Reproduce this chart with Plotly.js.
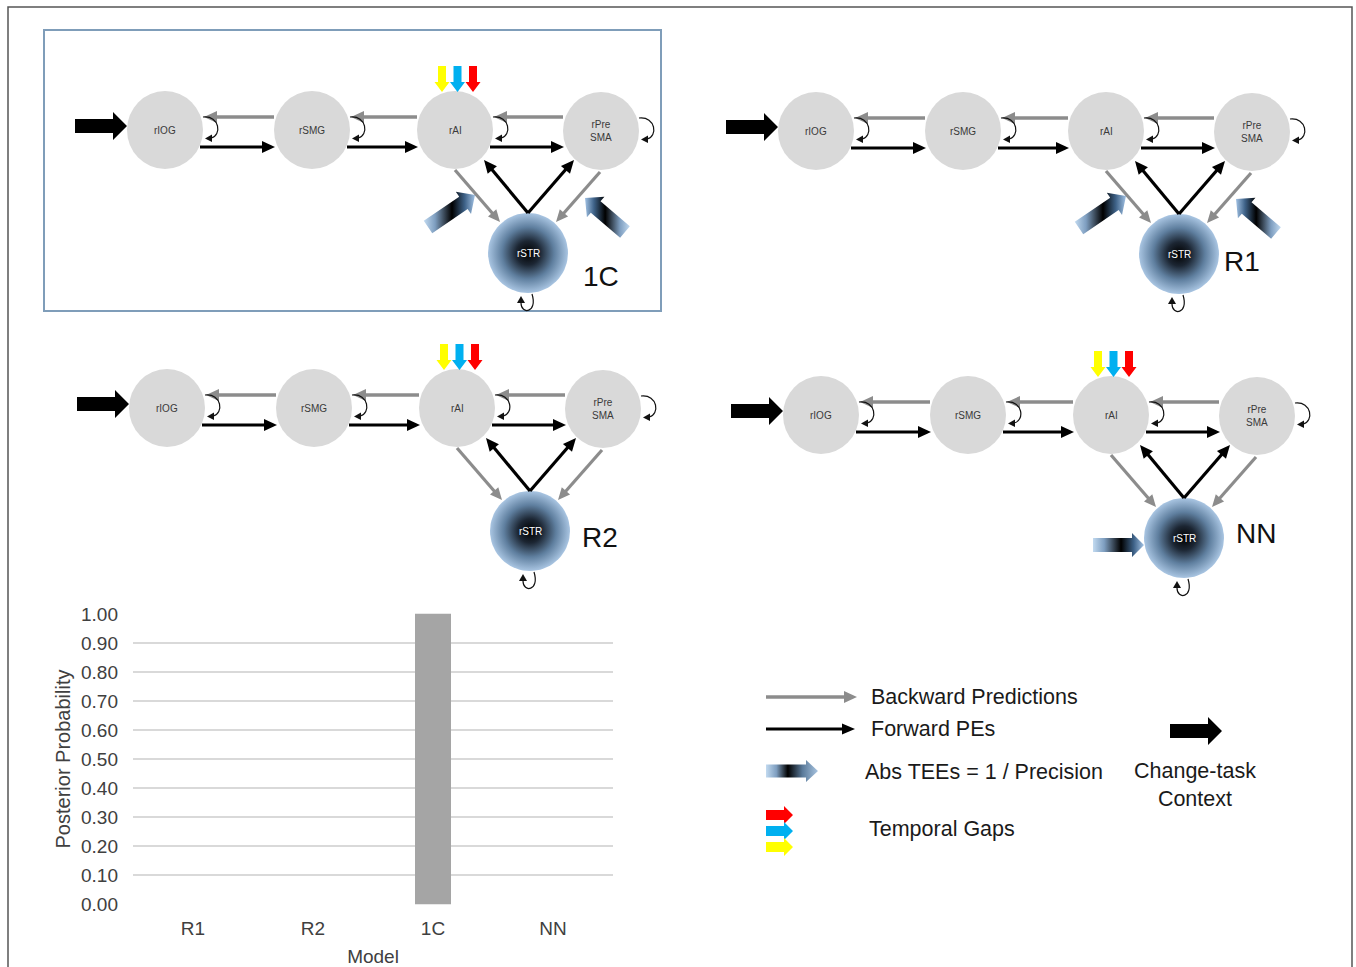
<!DOCTYPE html>
<html>
<head>
<meta charset="utf-8">
<script src="https://cdn.plot.ly/plotly-3.0.1.min.js"></script>
<style>html,body{margin:0;padding:0;background:#fff}#chart{width:1356px;height:967px}</style>
</head>
<body>
<div id="chart"></div>
<script>
// ---------- bar chart data ----------
const models = ['R1', 'R2', '1C', 'NN'];
const posterior = [0.00, 0.00, 1.00, 0.00];
const yTickVals = [0, 0.1, 0.2, 0.3, 0.4, 0.5, 0.6, 0.7, 0.8, 0.9, 1.0];
const yTitle = 'Posterior Probability';
const xTitle = 'Model';

// ---------- diagram content ----------
const nodeNames = ['rIOG', 'rSMG', 'rAI', 'rPre<br>SMA', 'rSTR'];
const nodeDX = [0, 147, 290, 436, 363];
const nodeDY = [0, 0, 0, 1, 123];
const panelNames = ['1C', 'R1', 'R2', 'NN'];
const panelOX = [165, 816, 167, 821];
const panelOY = [130, 131, 408, 415];
const panelTEE = ['diag', 'diag', 'none', 'horiz'];
const panelGaps = [true, false, true, true];
const panelLabelDX = [436, 426, 433, 435];
const panelLabelDY = [146, 130, 129, 118];
const gapColors = ['#ffff00', '#00b0f0', '#ff0000'];
const legendLabels = ['Backward Predictions', 'Forward PEs', 'Abs TEEs = 1 / Precision', 'Temporal Gaps', 'Change-task<br>Context'];

const GRAY_ARROW = '#8c8c8c';
const NODE_FILL = '#d9d9d9';
const FONT = 'Liberation Sans, Arial, sans-serif';
const NARROW = 'Liberation Sans Narrow, Arial Narrow, Liberation Sans, sans-serif';

const shapes = [];
const annotations = [];
const traces = [];

// bar trace
traces.push({
  type: 'bar', x: models, y: posterior, marker: {color: '#a5a5a5'},
  xaxis: 'x', yaxis: 'y', hoverinfo: 'skip', showlegend: false
});

function P(o) { return {xref: 'x2', yref: 'y2', ...o}; }

function arrow(x1, y1, x2, y2, color, w, hl, hw) {
  const dx = x2 - x1, dy = y2 - y1, L = Math.hypot(dx, dy);
  const ux = dx / L, uy = dy / L, px = -uy, py = ux;
  const bx = x2 - ux * hl, by = y2 - uy * hl;
  shapes.push(P({type: 'line', x0: x1, y0: y1, x1: bx + ux, y1: by + uy, line: {color: color, width: w}}));
  shapes.push(P({type: 'path', path: `M ${x2} ${y2} L ${bx + px * hw / 2} ${by + py * hw / 2} L ${bx - px * hw / 2} ${by - py * hw / 2} Z`,
    fillcolor: color, line: {width: 0}}));
}

function blockPts(x1, y1, x2, y2, sw, hw, hl) {
  const dx = x2 - x1, dy = y2 - y1, L = Math.hypot(dx, dy);
  const ux = dx / L, uy = dy / L, px = -uy, py = ux;
  const bx = x2 - ux * hl, by = y2 - uy * hl;
  return [
    [x1 + px * sw / 2, y1 + py * sw / 2],
    [bx + px * sw / 2, by + py * sw / 2],
    [bx + px * hw / 2, by + py * hw / 2],
    [x2, y2],
    [bx - px * hw / 2, by - py * hw / 2],
    [bx - px * sw / 2, by - py * sw / 2],
    [x1 - px * sw / 2, y1 - py * sw / 2]
  ];
}

function block(x1, y1, x2, y2, sw, hw, hl, color) {
  const pts = blockPts(x1, y1, x2, y2, sw, hw, hl);
  const path = 'M ' + pts.map(p => p[0] + ' ' + p[1]).join(' L ') + ' Z';
  shapes.push(P({type: 'path', path: path, fillcolor: color, line: {width: 0}}));
}

function gradBlock(x1, y1, x2, y2, sw, hw, hl, cs) {
  const pts = blockPts(x1, y1, x2, y2, sw, hw, hl);
  pts.push(pts[0]);
  traces.push({
    type: 'scatter', mode: 'lines', x: pts.map(p => p[0]), y: pts.map(p => p[1]),
    fill: 'toself', fillgradient: {type: 'horizontal', colorscale: cs},
    line: {width: 0, color: 'rgba(0,0,0,0)'}, xaxis: 'x2', yaxis: 'y2', hoverinfo: 'skip', showlegend: false
  });
}

function selfLoopRight(cx, cy) {
  shapes.push(P({type: 'path', path: `M ${cx + 38} ${cy - 13} C ${cx + 55} ${cy - 15}, ${cx + 57} ${cy + 6}, ${cx + 46} ${cy + 8}`,
    line: {color: '#111', width: 1.2}}));
  shapes.push(P({type: 'path', path: `M ${cx + 40} ${cy + 8.5} L ${cx + 47} ${cy + 4.5} L ${cx + 47} ${cy + 12} Z`, fillcolor: '#111', line: {width: 0}}));
}

function selfLoopBelow(cx, cy) {
  shapes.push(P({type: 'path', path: `M ${cx + 4} ${cy + 41} C ${cx + 10} ${cy + 60}, ${cx - 7} ${cy + 62}, ${cx - 7} ${cy + 50}`,
    line: {color: '#111', width: 1.2}}));
  shapes.push(P({type: 'path', path: `M ${cx - 7} ${cy + 43} L ${cx - 11} ${cy + 50} L ${cx - 3} ${cy + 50} Z`, fillcolor: '#111', line: {width: 0}}));
}

// outer frame and 1C box
shapes.push(P({type: 'rect', x0: 8, y0: 7, x1: 1352, y1: 1010, line: {color: '#555555', width: 1.5}}));
shapes.push(P({type: 'rect', x0: 44, y0: 30, x1: 661, y1: 311, line: {color: '#7f9db9', width: 2}}));

const teeLeftCS = [[0, '#c2daf0'], [0.22, '#7e9ec0'], [0.55, '#000000'], [0.8, '#3e6288'], [1, '#a2c2e4']];
const teeRightCS = [[0, '#a2c2e4'], [0.2, '#3e6288'], [0.45, '#000000'], [0.78, '#7e9ec0'], [1, '#c2daf0']];

for (let p = 0; p < panelNames.length; p++) {
  const ox = panelOX[p], oy = panelOY[p];
  const nx = nodeDX.map(d => ox + d), ny = nodeDY.map(d => oy + d);
  // gray nodes
  for (let i = 0; i < 4; i++) {
    shapes.push(P({type: 'circle', x0: nx[i] - 38, x1: nx[i] + 38, y0: ny[i] - 39, y1: ny[i] + 39,
      fillcolor: NODE_FILL, line: {width: 0}, layer: 'below'}));
    annotations.push(P({x: nx[i], y: ny[i], text: nodeNames[i], showarrow: false,
      font: {family: NARROW, size: 10, color: '#3a3a3a'}}));
  }
  // rSTR radial gradient node
  const cx = nx[4], cy = ny[4], R = 40, xs = [], ys = [];
  for (let k = 0; k <= 72; k++) { const a = k / 72 * 2 * Math.PI; xs.push(cx + R * Math.cos(a)); ys.push(cy + R * Math.sin(a)); }
  traces.push({
    type: 'scatter', mode: 'lines', x: xs, y: ys, fill: 'toself',
    fillgradient: {type: 'radial', colorscale: [[0, '#000000'], [0.3, '#1c2633'], [0.65, '#5f7f9f'], [1, '#a9c5e2']]},
    line: {width: 0, color: 'rgba(0,0,0,0)'}, xaxis: 'x2', yaxis: 'y2', hoverinfo: 'skip', showlegend: false
  });
  annotations.push(P({x: cx, y: cy, text: nodeNames[4], showarrow: false, font: {family: NARROW, size: 10, color: '#ffffff'}}));

  // backward (gray) and forward (black) chain connections
  for (let i = 0; i < 3; i++) {
    arrow(nx[i + 1] - 38, oy - 13, nx[i] + 39, oy - 13, GRAY_ARROW, 3.5, 13, 12);
    arrow(nx[i] + 35, oy + 17, nx[i + 1] - 37, oy + 17, '#000000', 3.2, 13, 12);
  }
  // striatum connections
  arrow(nx[2], ny[2] + 40, cx - 28, cy - 31, GRAY_ARROW, 3.2, 12, 11);
  arrow(nx[3] - 1, ny[3] + 41, cx + 28, cy - 31, GRAY_ARROW, 3.2, 12, 11);
  arrow(cx, cy - 40, nx[2] + 29, ny[2] + 30, '#000000', 3.2, 13, 12);
  arrow(cx, cy - 40, nx[3] - 27, ny[3] + 29, '#000000', 3.2, 13, 12);
  // self loops
  for (let i = 0; i < 4; i++) selfLoopRight(nx[i], ny[i]);
  selfLoopBelow(cx, cy);
  // driving input (change-task context)
  block(ox - 90, oy - 4, ox - 38, oy - 4, 14, 28, 14, '#000000');
  // temporal gaps
  if (panelGaps[p]) {
    for (let k = 0; k < 3; k++) {
      const gx = ox + 277 + k * 15.5;
      block(gx, oy - 64, gx, oy - 38, 8, 15, 10, gapColors[k]);
    }
  }
  // TEE modulations
  if (panelTEE[p] === 'diag') {
    gradBlock(ox + 263, oy + 97, ox + 310, oy + 65, 15, 27, 14, teeLeftCS);
    gradBlock(ox + 460, oy + 102, ox + 420, oy + 68, 15, 27, 14, teeRightCS);
  } else if (panelTEE[p] === 'horiz') {
    gradBlock(ox + 272, oy + 130, ox + 323, oy + 130, 14, 24, 12, teeLeftCS);
  }
  // panel label
  annotations.push(P({x: ox + panelLabelDX[p], y: oy + panelLabelDY[p], text: panelNames[p], showarrow: false,
    font: {family: FONT, size: 28, color: '#111111'}}));
}

// ---------- legend ----------
arrow(766, 697, 857, 697, GRAY_ARROW, 3.5, 13, 12);
arrow(766, 729, 855, 729, '#000000', 2.8, 13, 11);
gradBlock(766, 771, 818, 771, 13, 22, 12, [[0, '#c2daf0'], [0.2, '#7e9ec0'], [0.42, '#000000'], [0.7, '#5a7a9a'], [1, '#a8c4e0']]);
block(766, 815, 793, 815, 10, 18, 9, '#ff0000');
block(766, 831, 793, 831, 10, 18, 9, '#00b0f0');
block(766, 847, 793, 847, 10, 18, 9, '#ffff00');
block(1170, 731, 1222, 731, 14, 28, 14, '#000000');
const legendFont = {family: FONT, size: 21.5, color: '#1a1a1a'};
annotations.push(P({x: 869, y: 697, text: legendLabels[0], showarrow: false, xanchor: 'left', font: legendFont}));
annotations.push(P({x: 869, y: 729, text: legendLabels[1], showarrow: false, xanchor: 'left', font: legendFont}));
annotations.push(P({x: 863, y: 772, text: legendLabels[2], showarrow: false, xanchor: 'left', font: legendFont}));
annotations.push(P({x: 867, y: 829, text: legendLabels[3], showarrow: false, xanchor: 'left', font: legendFont}));
annotations.push(P({x: 1195, y: 785, text: legendLabels[4], showarrow: false, xanchor: 'center', font: legendFont}));

const H = 967, W = 1356;
const layout = {
  width: W, height: H,
  margin: {l: 0, r: 0, t: 0, b: 0},
  paper_bgcolor: '#ffffff', plot_bgcolor: 'rgba(0,0,0,0)',
  showlegend: false,
  font: {family: FONT, color: '#404040'},
  bargap: 0.7,
  xaxis: {
    domain: [133 / W, 613 / W], anchor: 'y', type: 'category',
    showgrid: false, zeroline: false, showline: false, ticks: '',
    tickfont: {family: FONT, size: 19, color: '#404040'}, ticklabelstandoff: 10,
    title: {text: xTitle, font: {family: FONT, size: 19, color: '#404040'}, standoff: 13},
    automargin: false, fixedrange: true
  },
  yaxis: {
    domain: [1 - 905 / H, 1 - 613 / H], anchor: 'x', range: [-0.003, 1.003],
    tickvals: yTickVals, tickformat: '.2f',
    showgrid: true, gridcolor: '#d9d9d9', gridwidth: 1.5, zeroline: false, showline: false, ticks: '',
    tickfont: {family: FONT, size: 19, color: '#404040'}, ticklabelstandoff: 14,
    title: {text: yTitle, font: {family: FONT, size: 20, color: '#404040'}, standoff: 5},
    automargin: false, fixedrange: true
  },
  xaxis2: {domain: [0, 1], anchor: 'y2', range: [0, W], visible: false, fixedrange: true},
  yaxis2: {domain: [0, 1], anchor: 'x2', range: [H, 0], visible: false, fixedrange: true},
  shapes: shapes,
  annotations: annotations
};

Plotly.newPlot('chart', traces, layout, {displayModeBar: false, staticPlot: true});
</script>
</body>
</html>
